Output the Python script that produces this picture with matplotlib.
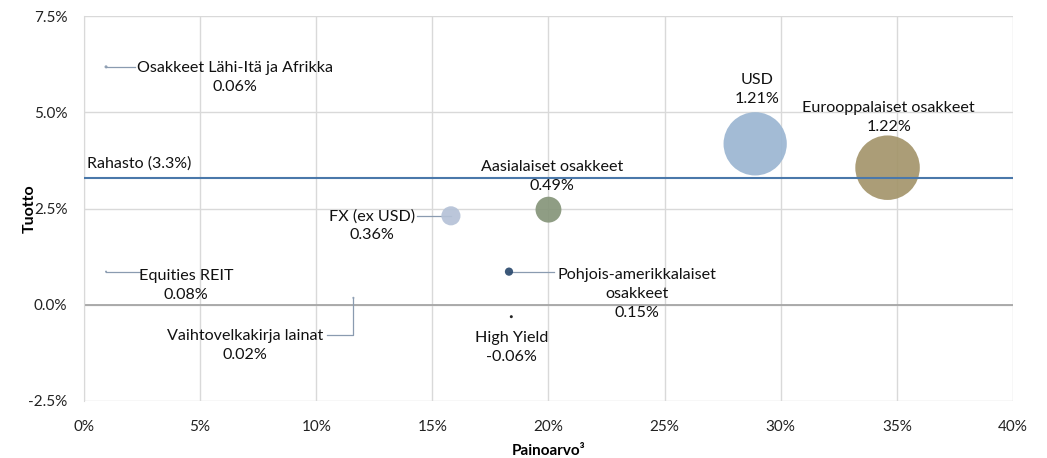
import matplotlib
matplotlib.use('Agg')
import matplotlib.pyplot as plt
from matplotlib.ticker import FuncFormatter, MultipleLocator
import numpy as np

plt.rcParams['font.family'] = ['Lato', 'DejaVu Sans']

# data
names = ['Osakkeet Lähi-Itä ja Afrikka', 'USD', 'Eurooppalaiset osakkeet',
         'Aasialaiset osakkeet', 'FX (ex USD)', 'Equities REIT',
         'Vaihtovelkakirja lainat', 'Pohjois-amerikkalaiset\nosakkeet', 'High Yield']
weight = [0.95, 28.9, 34.6, 20.0, 15.8, 0.95, 11.6, 18.3, 18.4]      # %
ret = [6.18, 4.18, 3.56, 2.47, 2.31, 0.86, 0.18, 0.86, -0.31]        # %
contrib = [0.06, 1.21, 1.22, 0.49, 0.36, 0.08, 0.02, 0.15, -0.06]    # %
fund_return = 3.3

colors = ['#8a9bb0', '#9bb6d2', '#a4956b', '#86957a', '#b5c2d7',
          '#8a9bb0', '#8a9bb0', '#2b4a6e', '#111111']

# label placement (centre of label, data units) and leader ends
lab_pos = [(6.5, 5.90), (29.0, 5.58), (34.65, 4.87), (20.15, 3.32), (12.4, 2.05),
           (4.4, 0.51), (6.95, -1.06), (23.8, 0.27), (18.4, -1.10)]
leader_x = {0: 2.2, 4: 14.35, 5: 2.4, 7: 20.25}

fig = plt.figure(figsize=(10.47, 4.58), dpi=100)
ax = fig.add_axes([0.0802, 0.1245, 0.8873, 0.8405])

ax.set_xlim(0, 40)
ax.set_ylim(-2.5, 7.5)
ax.xaxis.set_major_locator(MultipleLocator(5))
ax.yaxis.set_major_locator(MultipleLocator(2.5))
ax.xaxis.set_major_formatter(FuncFormatter(lambda v, p: f'{v:.0f}%'))
ax.yaxis.set_major_formatter(FuncFormatter(lambda v, p: f'{v:.1f}%'))
ax.grid(True, color='#d9d9d9', lw=1)
ax.set_axisbelow(True)
for s in ax.spines.values():
    s.set_visible(False)
ax.spines['left'].set_visible(True)
ax.spines['left'].set_color('#d9d9d9')
ax.tick_params(length=0, labelsize=11, colors='#222222')
ax.tick_params(axis='x', pad=14)
ax.tick_params(axis='y', pad=12)

ax.axhline(0, color='#a6a6a6', lw=1.3, zorder=1)
ax.axhline(fund_return, color='#4a78aa', lw=1.5, zorder=3)
ax.text(0.12, fund_return + 0.17, f'Rahasto ({fund_return}%)', fontsize=11.5,
        ha='left', va='bottom', color='#111111')

# bubble radius proportional to |weight*return|
size_pt = 46.0 / 1.22
for i in range(len(names)):
    c = abs(weight[i] * ret[i] / 100)
    d = max(c * size_pt, 1.5)
    ax.scatter(weight[i], ret[i], s=d ** 2, color=colors[i], alpha=0.92,
               edgecolors='none', zorder=2)

for i, n in enumerate(names):
    lx, ly = lab_pos[i]
    ax.text(lx, ly, f'{n}\n{contrib[i]:.2f}%', ha='center', va='center',
            fontsize=11.6, linespacing=1.45, color='#111111', zorder=4)
    if i in leader_x:
        ax.plot([weight[i], leader_x[i]], [ret[i], ret[i]], color='#8a9bb0',
                lw=0.9, zorder=1)

# Vaihtovelkakirja leader (elbow)
ax.plot([weight[6], weight[6], 10.45], [ret[6], -0.78, -0.78], color='#8a9bb0',
        lw=0.9, zorder=1)

ax.set_xlabel('Painoarvo³', fontsize=11, fontweight='bold', labelpad=7)
ax.set_ylabel('Tuotto', fontsize=11.5, fontweight='bold', labelpad=-6)

fig.savefig('out.png', dpi=100)
